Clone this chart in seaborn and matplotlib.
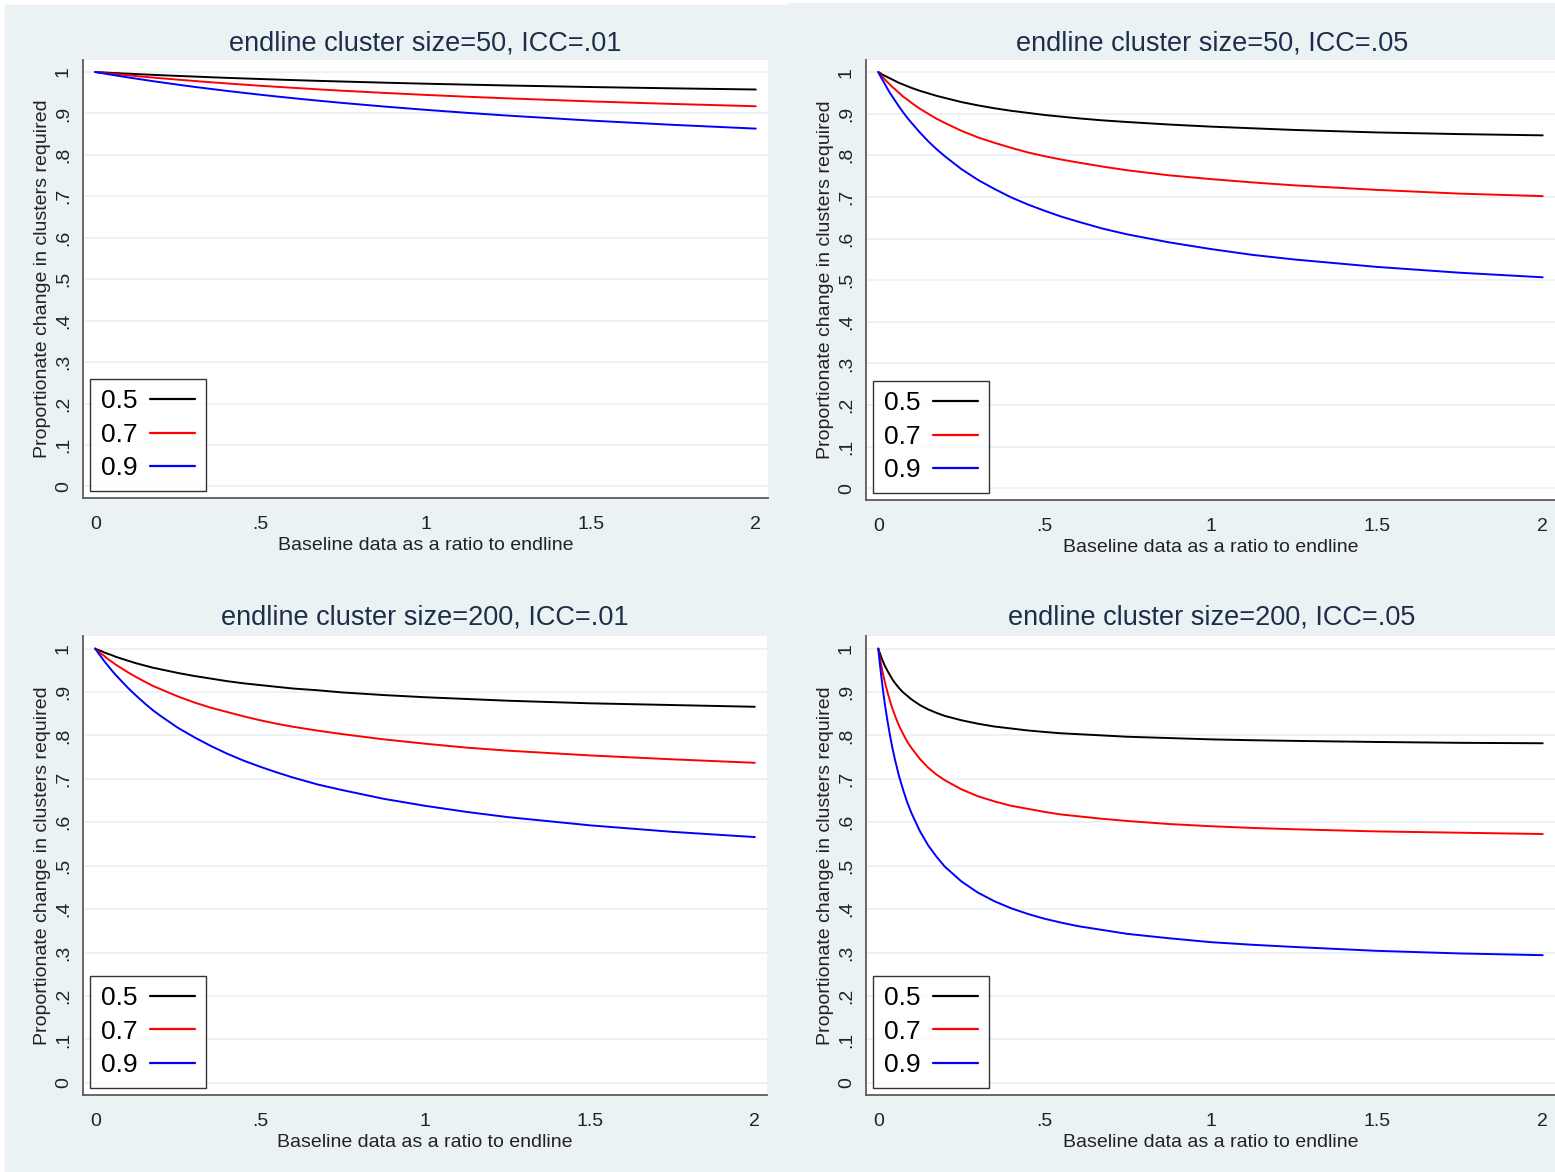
import matplotlib
matplotlib.use("Agg")
import matplotlib.pyplot as plt
from matplotlib.patches import Rectangle
from matplotlib.lines import Line2D
import pandas as pd
import seaborn as sns

W, H = 1555, 1172

# baseline size as a ratio to endline (x positions)
ratio = [0, 0.0025, 0.005, 0.01, 0.015, 0.02, 0.0275, 0.035, 0.0425, 0.05, 0.0625,
         0.075, 0.0875, 0.1, 0.125, 0.15, 0.175, 0.2, 0.25, 0.3, 0.35, 0.4, 0.45,
         0.5, 0.55, 0.6, 0.675, 0.75, 0.875, 1.0, 1.125, 1.25, 1.5, 1.75, 2.0]
corr_labels = ["0.5", "0.7", "0.9"]

# endline cluster size=50, ICC=.01
m50_icc01_c05 = [1.0000, 0.9999, 0.9998, 0.9996, 0.9994, 0.9992, 0.9989, 0.9985, 0.9982, 0.9979,
                 0.9974, 0.9969, 0.9964, 0.9960, 0.9950, 0.9941, 0.9932, 0.9923, 0.9906, 0.9890,
                 0.9874, 0.9859, 0.9845, 0.9831, 0.9818, 0.9805, 0.9787, 0.9770, 0.9743, 0.9718,
                 0.9696, 0.9675, 0.9638, 0.9606, 0.9578]
m50_icc01_c07 = [1.0000, 0.9998, 0.9996, 0.9992, 0.9988, 0.9984, 0.9977, 0.9971, 0.9965, 0.9960,
                 0.9950, 0.9940, 0.9930, 0.9921, 0.9902, 0.9884, 0.9866, 0.9849, 0.9816, 0.9784,
                 0.9753, 0.9724, 0.9696, 0.9668, 0.9643, 0.9618, 0.9582, 0.9548, 0.9496, 0.9448,
                 0.9404, 0.9364, 0.9291, 0.9229, 0.9174]
m50_icc01_c09 = [1.0000, 0.9997, 0.9993, 0.9986, 0.9980, 0.9973, 0.9963, 0.9953, 0.9943, 0.9933,
                 0.9917, 0.9901, 0.9885, 0.9869, 0.9839, 0.9809, 0.9779, 0.9751, 0.9695, 0.9642,
                 0.9592, 0.9543, 0.9497, 0.9452, 0.9409, 0.9368, 0.9309, 0.9253, 0.9167, 0.9088,
                 0.9015, 0.8948, 0.8828, 0.8725, 0.8634]

# endline cluster size=50, ICC=.05
m50_icc05_c05 = [1.000, 0.999, 0.998, 0.995, 0.993, 0.991, 0.988, 0.985, 0.982, 0.979, 0.974,
                 0.970, 0.966, 0.962, 0.955, 0.949, 0.943, 0.938, 0.928, 0.920, 0.913, 0.907,
                 0.902, 0.897, 0.893, 0.889, 0.884, 0.880, 0.874, 0.869, 0.865, 0.861, 0.855,
                 0.851, 0.848]
m50_icc05_c07 = [1.000, 0.998, 0.995, 0.991, 0.987, 0.982, 0.976, 0.970, 0.964, 0.959, 0.950,
                 0.941, 0.934, 0.926, 0.912, 0.900, 0.888, 0.878, 0.859, 0.843, 0.830, 0.818,
                 0.807, 0.798, 0.790, 0.783, 0.773, 0.764, 0.752, 0.743, 0.735, 0.728, 0.717,
                 0.708, 0.702]
m50_icc05_c09 = [1.000, 0.996, 0.992, 0.985, 0.978, 0.971, 0.960, 0.950, 0.941, 0.932, 0.917,
                 0.903, 0.890, 0.878, 0.855, 0.834, 0.815, 0.798, 0.767, 0.741, 0.719, 0.699,
                 0.682, 0.667, 0.653, 0.641, 0.624, 0.610, 0.591, 0.575, 0.561, 0.550, 0.532,
                 0.518, 0.507]

# endline cluster size=200, ICC=.01
m200_icc01_c05 = [1.000, 0.999, 0.998, 0.997, 0.995, 0.994, 0.991, 0.989, 0.987, 0.985, 0.981,
                  0.978, 0.975, 0.972, 0.966, 0.961, 0.956, 0.952, 0.944, 0.937, 0.931, 0.925,
                  0.920, 0.916, 0.912, 0.908, 0.904, 0.899, 0.893, 0.888, 0.884, 0.880, 0.874,
                  0.870, 0.866]
m200_icc01_c07 = [1.000, 0.998, 0.997, 0.994, 0.990, 0.987, 0.983, 0.978, 0.974, 0.970, 0.963,
                  0.957, 0.951, 0.945, 0.934, 0.924, 0.914, 0.906, 0.890, 0.876, 0.864, 0.854,
                  0.844, 0.835, 0.827, 0.820, 0.811, 0.803, 0.791, 0.781, 0.772, 0.765, 0.754,
                  0.745, 0.737]
m200_icc01_c09 = [1.000, 0.997, 0.995, 0.989, 0.984, 0.979, 0.971, 0.964, 0.957, 0.950, 0.939,
                  0.929, 0.919, 0.909, 0.891, 0.874, 0.858, 0.844, 0.818, 0.796, 0.776, 0.758,
                  0.742, 0.728, 0.715, 0.703, 0.687, 0.674, 0.654, 0.638, 0.624, 0.612, 0.593,
                  0.578, 0.566]

# endline cluster size=200, ICC=.05
m200_icc05_c05 = [1.000, 0.994, 0.989, 0.978, 0.969, 0.960, 0.949, 0.939, 0.929, 0.921, 0.909,
                  0.899, 0.891, 0.883, 0.870, 0.860, 0.852, 0.845, 0.835, 0.827, 0.8205, 0.816,
                  0.8115, 0.808, 0.805, 0.803, 0.800, 0.797, 0.794, 0.791, 0.789, 0.7875, 0.785,
                  0.783, 0.782]
m200_icc05_c07 = [1.000, 0.989, 0.978, 0.957, 0.939, 0.922, 0.900, 0.880, 0.862, 0.846, 0.822,
                  0.803, 0.785, 0.771, 0.746, 0.726, 0.710, 0.697, 0.676, 0.660, 0.648, 0.638,
                  0.631, 0.624, 0.618, 0.614, 0.608, 0.603, 0.596, 0.591, 0.587, 0.584, 0.579,
                  0.576, 0.573]
m200_icc05_c09 = [1.000, 0.981, 0.963, 0.930, 0.899, 0.871, 0.834, 0.801, 0.771, 0.745, 0.706,
                  0.674, 0.645, 0.621, 0.580, 0.547, 0.521, 0.498, 0.464, 0.438, 0.418, 0.402,
                  0.389, 0.378, 0.369, 0.361, 0.352, 0.343, 0.333, 0.324, 0.318, 0.313, 0.304,
                  0.298, 0.294]

titles = ["endline cluster size=50, ICC=.01", "endline cluster size=50, ICC=.05",
          "endline cluster size=200, ICC=.01", "endline cluster size=200, ICC=.05"]
series = [
    [m50_icc01_c05, m50_icc01_c07, m50_icc01_c09],
    [m50_icc05_c05, m50_icc05_c07, m50_icc05_c09],
    [m200_icc01_c05, m200_icc01_c07, m200_icc01_c09],
    [m200_icc05_c05, m200_icc05_c07, m200_icc05_c09],
]

xticks = [0, 0.5, 1, 1.5, 2]
xticklabels = ["0", ".5", "1", "1.5", "2"]
yticks = [i / 10 for i in range(11)]
yticklabels = ["0", ".1", ".2", ".3", ".4", ".5", ".6", ".7", ".8", ".9", "1"]

BG = "#eaf2f3"
AXIS = "#5c5c5c"
TITLE = "#1f2d4b"
palette = {"0.5": "black", "0.7": "#ff0000", "0.9": "#0000ff"}

sns.set_style("white")
plt.rcParams["font.family"] = ["Liberation Sans", "DejaVu Sans"]

fig = plt.figure(figsize=(W / 100, H / 100), dpi=100, facecolor="white")


def px_rect(l, t, r, b):
    return [l / W, 1 - b / H, (r - l) / W, (b - t) / H]


# panel backgrounds (pixel boxes)
for l, t, r, b in [(5, 5, 788, 577), (789, 3, 1555, 577), (5, 578, 788, 1172), (789, 577, 1555, 1172)]:
    fig.patches.append(Rectangle((l / W, 1 - b / H), (r - l) / W, (b - t) / H,
                                 transform=fig.transFigure, color=BG, zorder=-5))

axes_boxes = [(83, 60, 768, 498), (866, 60, 1555, 500), (83, 636, 767, 1095), (866, 636, 1555, 1095)]
title_pos = [(425, 43), (1212, 43), (425, 618), (1212, 618)]

for k in range(4):
    ax = fig.add_axes(px_rect(*axes_boxes[k]))
    ax.set_zorder(2)
    rows = []
    for lab, vals in zip(corr_labels, series[k]):
        assert len(vals) == len(ratio)
        for x, y in zip(ratio, vals):
            rows.append({"ratio": x, "prop": y, "corr": lab})
    df = pd.DataFrame(rows)
    sns.lineplot(data=df, x="ratio", y="prop", hue="corr", hue_order=corr_labels,
                 palette=palette, linewidth=1.4, legend=False, errorbar=None, ax=ax)

    ax.set_facecolor("white")
    sns.despine(ax=ax)
    for s in ["left", "bottom"]:
        ax.spines[s].set_color(AXIS)
        ax.spines[s].set_linewidth(1.3)
    ax.set_xlim(-0.037, 2.037)
    ax.set_ylim(-0.028, 1.029)
    ax.set_xticks(xticks)
    ax.set_xticklabels(xticklabels)
    ax.set_yticks(yticks)
    ax.set_yticklabels(yticklabels, rotation=90, va="center")
    ax.grid(axis="y", color=BG, linewidth=1.3)
    ax.set_axisbelow(True)
    ax.tick_params(direction="out", length=7, width=1.3, color=AXIS,
                   labelsize=14, labelcolor="#222222")
    ax.tick_params(axis="x", pad=6)
    ax.tick_params(axis="y", pad=1)
    ax.set_xlabel("Baseline data as a ratio to endline", fontsize=14, labelpad=3, color="#222222")
    ax.set_ylabel("Proportionate change in clusters required", fontsize=14, labelpad=2.5, color="#222222")

    handles = [Line2D([0], [0], color=palette[c], lw=1.6) for c in corr_labels]
    leg = ax.legend(handles, corr_labels, loc="lower left", bbox_to_anchor=(0.0102, 0.016),
                    borderaxespad=0, markerfirst=False, fontsize=19, frameon=True,
                    fancybox=False, edgecolor="black", handlelength=1.7,
                    handletextpad=0.5, labelspacing=0.36, borderpad=0.4,
                    labelcolor="black")
    leg.get_frame().set_linewidth(1.0)

    cx, cy = title_pos[k]
    fig.text(cx / W, 1 - cy / H, titles[k], ha="center", va="center",
             fontsize=19.5, color=TITLE)

fig.savefig("out.png", dpi=100, facecolor="white")
